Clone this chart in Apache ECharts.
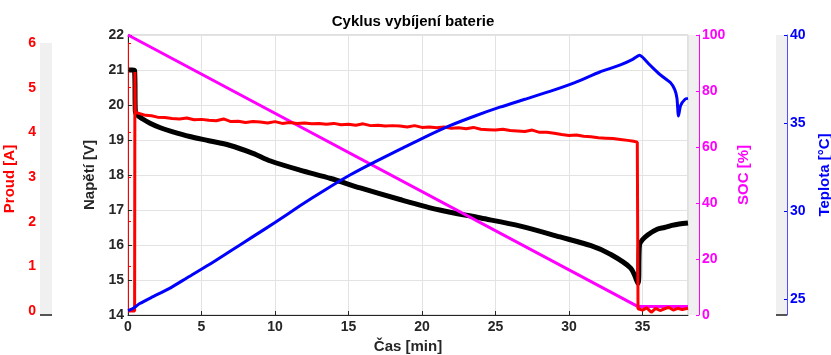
<!DOCTYPE html>
<html>
<head>
<meta charset="utf-8">
<script src="https://cdn.jsdelivr.net/npm/echarts@6/dist/echarts.min.js"></script>
<style>
  html, body { margin: 0; padding: 0; background: #fff; }
  #chart { width: 831px; height: 355px; }
</style>
</head>
<body>
<div id="chart"></div>
<script>
// napětí (černá)
const voltTime = [0.05, 0.3, 0.45, 0.5, 0.6, 1.0, 1.5, 2.2, 3.0, 4.2, 5.5, 6.9, 8.5, 9.7, 11.7, 13.8, 15.8, 18.5, 21.2, 24.0, 26.7, 29.4, 31.5, 32.8, 34.2, 34.7, 34.8, 35.0, 35.4, 36.0, 36.5, 37.0, 37.5, 38.1]
const voltValues = [21.0, 21.0, 20.98, 19.8, 19.72, 19.6, 19.48, 19.35, 19.24, 19.1, 18.98, 18.85, 18.62, 18.4, 18.14, 17.9, 17.63, 17.3, 17.0, 16.77, 16.54, 16.23, 15.98, 15.74, 15.34, 14.9, 16.0, 16.15, 16.3, 16.45, 16.5, 16.56, 16.6, 16.63]

// proud (červená)
const currTime = [0, 0.45, 0.47, 0.5, 0.8, 1.2, 1.6, 2.0, 2.5, 3.0, 3.5, 4.0, 4.5, 5.0, 5.5, 6.0, 6.5, 7.0, 7.5, 8.0, 8.5, 9.0, 9.5, 10.0, 10.5, 11.0, 11.5, 12.0, 12.5, 13.0, 13.5, 14.0, 14.5, 15.0, 15.5, 16.0, 16.5, 17.0, 17.5, 18.0, 18.5, 19.0, 19.5, 20.0, 20.5, 21.0, 21.5, 22.0, 22.5, 23.0, 23.5, 24.0, 24.5, 25.0, 25.5, 26.0, 26.5, 27.0, 27.5, 28.0, 28.5, 29.0, 29.5, 30.0, 30.5, 31.0, 31.5, 32.0, 32.5, 33.0, 33.5, 34.0, 34.4, 34.65, 34.7, 35.0, 35.3, 35.6, 35.9, 36.2, 36.5, 36.8, 37.1, 37.4, 37.7, 38.1]
const currValues = [0, 0, 5.35, 4.45, 4.42, 4.38, 4.37, 4.34, 4.33, 4.31, 4.3, 4.32, 4.28, 4.29, 4.27, 4.26, 4.3, 4.24, 4.25, 4.22, 4.24, 4.23, 4.21, 4.24, 4.2, 4.22, 4.2, 4.21, 4.19, 4.2, 4.18, 4.2, 4.17, 4.18, 4.16, 4.19, 4.15, 4.16, 4.14, 4.15, 4.14, 4.12, 4.15, 4.11, 4.12, 4.1, 4.12, 4.09, 4.1, 4.08, 4.11, 4.07, 4.06, 4.05, 4.07, 4.04, 4.03, 4.02, 4.05, 4.0, 4.0, 3.98, 3.95, 3.93, 3.94, 3.91, 3.9, 3.88, 3.87, 3.86, 3.84, 3.82, 3.8, 3.78, 0.05, 0.02, 0.07, -0.03, 0.06, 0.01, 0.05, 0.08, 0.02, 0.06, 0.03, 0.06]

// SOC (purpurová)
const socTime = [0, 34.7, 38.1]
const socValues = [100, 3, 3]

// teplota (modrá)
const tempTime = [0, 0.3, 0.8, 1.6, 2.8, 4.0, 5.5, 7.0, 8.5, 10.0, 11.7, 13.4, 15.1, 16.8, 18.5, 20.2, 21.9, 23.6, 25.3, 27.0, 28.7, 30.4, 32.1, 33.5, 34.3, 34.8, 35.5, 36.2, 36.9, 37.2, 37.35, 37.45, 37.6, 37.9, 38.1]
const tempValues = [24.35, 24.45, 24.75, 25.1, 25.6, 26.2, 26.95, 27.75, 28.55, 29.35, 30.3, 31.2, 32.05, 32.8, 33.5, 34.2, 34.85, 35.4, 35.9, 36.35, 36.8, 37.3, 37.9, 38.3, 38.6, 38.85, 38.3, 37.75, 37.3, 36.9, 36.4, 35.4, 36.0, 36.35, 36.4]

const xTicks = { min: 0, max: 38.1, interval: 5 }
const proudTicks = [0, 1, 2, 3, 4, 5, 6]
const teplotaTicks = [25, 30, 35, 40]

const zip = (t, v) => t.map((x, i) => [x, v[i]])

const font = 'Liberation Sans, Arial, Helvetica, sans-serif'
const dark = '#262626'

let myChart = echarts.init(document.getElementById('chart'))

myChart.setOption({
  animation: false,
  title: {
    text: 'Cyklus vybíjení baterie',
    left: 408,
    top: 9,
    textAlign: 'center',
    textStyle: { fontFamily: font, fontSize: 15, fontWeight: 'bold', color: '#000' }
  },
  graphic: [
    { type: 'rect', shape: { x: 40, y: 43, width: 12, height: 272 }, style: { fill: '#f0f0f0' }, z: -1 },
    { type: 'rect', shape: { x: 688, y: 35, width: 11, height: 280 }, style: { fill: '#f0f0f0' }, z: -1 },
    { type: 'rect', shape: { x: 776, y: 35, width: 11, height: 280 }, style: { fill: '#f0f0f0' }, z: -1 },
    { type: 'line', shape: { x1: 40, y1: 315, x2: 52, y2: 315 }, style: { stroke: '#555', lineWidth: 2 } },
    { type: 'line', shape: { x1: 776, y1: 315, x2: 787, y2: 315 }, style: { stroke: '#555', lineWidth: 2 } }
  ],
  grid: [
    { left: 128, right: 143, top: 35, bottom: 40, outerBoundsMode: 'none', containLabel: false, show: true, borderColor: '#c0c0c0', borderWidth: 1, backgroundColor: '#fff' },
    { left: 128, right: 143, top: 43, bottom: 40, outerBoundsMode: 'none', containLabel: false }
  ],
  xAxis: [
    {
      type: 'value',
      gridIndex: 0,
      min: xTicks.min,
      max: xTicks.max,
      interval: xTicks.interval,
      name: 'Čas [min]',
      nameLocation: 'middle',
      nameGap: 22,
      nameTextStyle: { fontFamily: font, fontSize: 15, fontWeight: 'bold', color: dark },
      axisLine: { lineStyle: { color: dark, width: 1 } },
      axisTick: { inside: true, length: 4, lineStyle: { color: dark } },
      axisLabel: { fontFamily: font, fontSize: 14, fontWeight: 'bold', color: dark, margin: 5, showMaxLabel: false },
      splitLine: { show: true, lineStyle: { color: '#e3e3e3', width: 1 } }
    },
    { type: 'value', gridIndex: 1, min: xTicks.min, max: xTicks.max, show: false }
  ],
  yAxis: [
    {
      type: 'value',
      gridIndex: 0,
      position: 'left',
      min: 14,
      max: 22,
      interval: 1,
      name: 'Napětí [V]',
      nameLocation: 'middle',
      nameRotate: 90,
      nameGap: 21,
      nameTextStyle: { fontFamily: font, fontSize: 15, fontWeight: 'bold', color: dark },
      axisLine: { show: true, lineStyle: { color: dark, width: 1 } },
      axisTick: { show: true, inside: true, length: 4, lineStyle: { color: dark } },
      axisLabel: { fontFamily: font, fontSize: 14, fontWeight: 'bold', color: dark, margin: 4 },
      splitLine: { show: true, lineStyle: { color: '#e3e3e3', width: 1 } }
    },
    {
      type: 'value',
      gridIndex: 0,
      position: 'right',
      offset: 11,
      min: 0,
      max: 100,
      interval: 20,
      name: 'SOC [%]',
      nameLocation: 'middle',
      nameRotate: 90,
      nameGap: 34,
      nameTextStyle: { fontFamily: font, fontSize: 15, fontWeight: 'bold', color: '#ff00ff' },
      axisLine: { show: true, lineStyle: { color: '#ff00ff', width: 1 } },
      axisTick: { show: true, inside: true, length: 3, lineStyle: { color: '#ff00ff' } },
      axisLabel: { fontFamily: font, fontSize: 14, fontWeight: 'bold', color: '#ff00ff', margin: 3 },
      splitLine: { show: false }
    },
    {
      type: 'value',
      gridIndex: 0,
      position: 'right',
      offset: 99,
      min: 24.1,
      max: 40,
      name: 'Teplota [°C]',
      nameLocation: 'middle',
      nameRotate: 90,
      nameGap: 30,
      nameTextStyle: { fontFamily: font, fontSize: 15, fontWeight: 'bold', color: '#0000ff' },
      axisLine: { show: true, lineStyle: { color: '#5050ff', width: 1 } },
      axisTick: { show: true, inside: true, length: 3, customValues: teplotaTicks, lineStyle: { color: '#0000ff' } },
      axisLabel: { fontFamily: font, fontSize: 14, fontWeight: 'bold', color: '#0000ff', margin: 3, customValues: teplotaTicks },
      splitLine: { show: false }
    },
    {
      type: 'value',
      gridIndex: 1,
      position: 'left',
      offset: 88,
      min: -0.09,
      max: 6,
      name: 'Proud [A]',
      nameLocation: 'middle',
      nameRotate: 90,
      nameGap: 15,
      nameTextStyle: { fontFamily: font, fontSize: 15, fontWeight: 'bold', color: '#ff0000' },
      axisLine: { show: true, lineStyle: { color: '#ff0000', width: 1 } },
      axisTick: { show: true, inside: true, length: 3, customValues: proudTicks, lineStyle: { color: '#ff0000' } },
      axisLabel: { fontFamily: font, fontSize: 14, fontWeight: 'bold', color: '#ff0000', margin: 4, customValues: proudTicks },
      splitLine: { show: false }
    }
  ],
  series: [
    {
      name: 'Napětí',
      type: 'line',
      xAxisIndex: 0,
      yAxisIndex: 0,
      data: zip(voltTime, voltValues),
      smooth: 0.3,
      showSymbol: false,
      lineStyle: { color: '#000', width: 5 },
      z: 2
    },
    {
      name: 'SOC',
      type: 'line',
      xAxisIndex: 0,
      yAxisIndex: 1,
      data: zip(socTime, socValues),
      showSymbol: false,
      lineStyle: { color: '#ff00ff', width: 3 },
      z: 3
    },
    {
      name: 'Proud',
      type: 'line',
      xAxisIndex: 1,
      yAxisIndex: 3,
      data: zip(currTime, currValues),
      showSymbol: false,
      lineStyle: { color: '#ff0000', width: 3 },
      z: 4
    },
    {
      name: 'Teplota',
      type: 'line',
      xAxisIndex: 0,
      yAxisIndex: 2,
      data: zip(tempTime, tempValues),
      smooth: 0.2,
      showSymbol: false,
      lineStyle: { color: '#0000ff', width: 3 },
      z: 5
    }
  ]
})

window.addEventListener('resize', () => {
  myChart.resize()
})
</script>
</body>
</html>
